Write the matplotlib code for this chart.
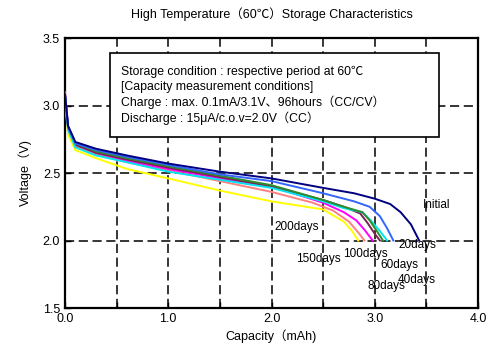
import matplotlib
matplotlib.use("Agg")
import matplotlib.pyplot as plt
from matplotlib.patches import Rectangle

plt.rcParams['font.family'] = ['Liberation Sans', 'Noto Sans CJK JP', 'DejaVu Sans']

series_names = ["Initial", "20days", "40days", "60days", "80days", "100days", "150days", "200days"]
series_colors = ["#000080", "#3366FF", "#2E8B2E", "#00E5EE", "#7B2250", "#FF00FF", "#FF8080", "#FFFF00"]

cap_initial = [0, 0.03, 0.1, 0.3, 0.6, 1.0, 1.5, 2.0, 2.5, 2.8, 3.0, 3.15, 3.25, 3.35, 3.43]
v_initial = [3.08, 2.85, 2.73, 2.68, 2.63, 2.57, 2.51, 2.46, 2.39, 2.35, 2.31, 2.27, 2.21, 2.12, 2.0]

cap_20 = [0, 0.03, 0.1, 0.3, 0.6, 1.0, 1.5, 2.0, 2.5, 2.8, 2.95, 3.05, 3.12, 3.18]
v_20 = [3.08, 2.84, 2.72, 2.67, 2.62, 2.56, 2.49, 2.44, 2.35, 2.29, 2.25, 2.18, 2.09, 2.0]

cap_40 = [0, 0.03, 0.1, 0.3, 0.6, 1.0, 1.5, 2.0, 2.5, 2.7, 2.88, 2.95, 3.02, 3.08]
v_40 = [3.08, 2.84, 2.72, 2.66, 2.61, 2.55, 2.48, 2.41, 2.30, 2.25, 2.21, 2.15, 2.07, 2.0]

cap_60 = [0, 0.03, 0.1, 0.3, 0.6, 1.0, 1.5, 2.0, 2.5, 2.7, 2.88, 2.96, 3.05, 3.12]
v_60 = [3.07, 2.82, 2.69, 2.63, 2.58, 2.51, 2.45, 2.39, 2.29, 2.24, 2.21, 2.15, 2.07, 2.0]

cap_80 = [0, 0.03, 0.1, 0.3, 0.6, 1.0, 1.5, 2.0, 2.5, 2.7, 2.86, 2.93, 3.0, 3.05]
v_80 = [3.08, 2.84, 2.71, 2.65, 2.60, 2.54, 2.47, 2.40, 2.30, 2.25, 2.20, 2.13, 2.05, 2.0]

cap_100 = [0, 0.03, 0.1, 0.3, 0.6, 1.0, 1.5, 2.0, 2.5, 2.7, 2.82, 2.9, 2.98]
v_100 = [3.10, 2.84, 2.71, 2.65, 2.59, 2.53, 2.46, 2.40, 2.28, 2.21, 2.15, 2.08, 2.0]

cap_150 = [0, 0.03, 0.1, 0.3, 0.6, 1.0, 1.5, 2.0, 2.4, 2.6, 2.75, 2.84, 2.9]
v_150 = [3.07, 2.82, 2.70, 2.64, 2.58, 2.52, 2.44, 2.36, 2.28, 2.22, 2.14, 2.06, 2.0]

cap_200 = [0, 0.03, 0.1, 0.3, 0.6, 1.0, 1.5, 2.0, 2.5, 2.7, 2.78, 2.84]
v_200 = [3.05, 2.78, 2.67, 2.61, 2.53, 2.46, 2.37, 2.29, 2.23, 2.14, 2.07, 2.0]

caps = [cap_initial, cap_20, cap_40, cap_60, cap_80, cap_100, cap_150, cap_200]
volts = [v_initial, v_20, v_40, v_60, v_80, v_100, v_150, v_200]

label_x = [3.47, 3.23, 3.22, 3.05, 2.93, 2.69, 2.24, 2.03]
label_y = [2.26, 1.97, 1.71, 1.82, 1.66, 1.90, 1.86, 2.10]

x_ticks = [0.0, 1.0, 2.0, 3.0, 4.0]
y_ticks = [1.5, 2.0, 2.5, 3.0, 3.5]

box_lines = ["Storage condition : respective period at 60℃",
             "[Capacity measurement conditions]",
             "Charge : max. 0.1mA/3.1V、96hours（CC/CV）",
             "Discharge : 15μA/c.o.v=2.0V（CC）"]

fig = plt.figure(figsize=(5, 3.6), dpi=100)
ax = fig.add_axes([0.13, 0.1444, 0.826, 0.75])

for c, v, col in reversed(list(zip(caps, volts, series_colors))):
    ax.plot(c, v, color=col, lw=1.4, zorder=3)

ax.set_xlim(0, 4.0)
ax.set_ylim(1.5, 3.5)
ax.set_xticks(x_ticks)
ax.set_xticklabels([f"{t:.1f}" for t in x_ticks], fontsize=9)
ax.set_yticks(y_ticks)
ax.set_yticklabels([f"{t:.1f}" for t in y_ticks], fontsize=9)
ax.set_xticks([0.5, 1.5, 2.5, 3.5], minor=True)
ax.tick_params(which='both', direction='in', length=4, width=1)

for gx in [0.5, 1.0, 1.5, 2.0, 2.5, 3.0, 3.5]:
    ax.axvline(gx, color='black', ls=(0, (6, 3)), lw=1.1, zorder=1)
for gy in [2.0, 2.5, 3.0]:
    ax.axhline(gy, color='black', ls=(0, (6, 3)), lw=1.1, zorder=1)

for s in ax.spines.values():
    s.set_linewidth(1.6)

ax.set_xlabel("Capacity（mAh)", fontsize=9, labelpad=3)
ax.set_ylabel("Voltage（V)", fontsize=9, labelpad=8)
fig.text(0.543, 0.962, "High Temperature（60℃）Storage Characteristics", ha='center', va='center', fontsize=9)

for name, lx, ly in zip(series_names, label_x, label_y):
    ax.text(lx, ly, name, fontsize=8.5, ha='left', va='center', zorder=5)

ax.add_patch(Rectangle((0.44, 2.77), 3.18, 0.62, facecolor='white', edgecolor='black', lw=1.2, zorder=4))
line_y = [3.25, 3.137, 3.026, 2.907]
for txt, ty in zip(box_lines, line_y):
    ax.text(0.54, ty, txt, fontsize=8.8, ha='left', va='center', zorder=6)

fig.savefig("out.png", dpi=100)
